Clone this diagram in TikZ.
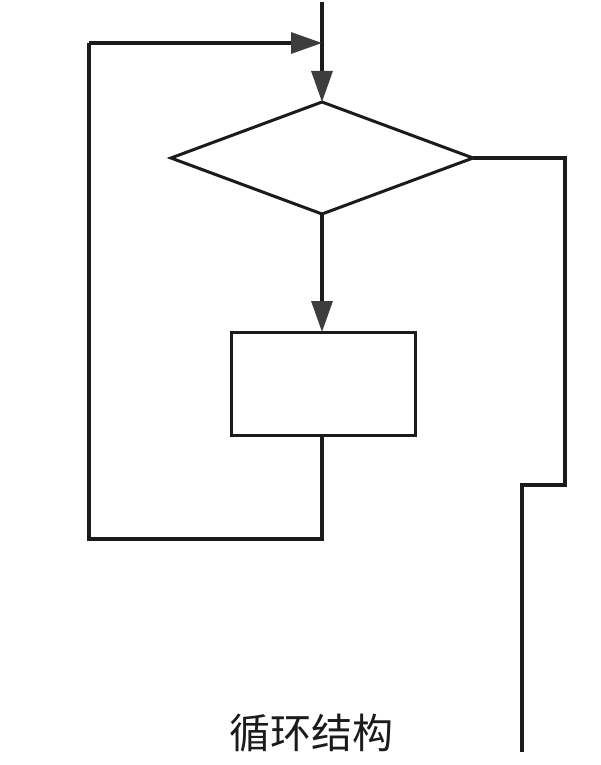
\documentclass[tikz,border=0pt]{standalone}
\usepackage{fontspec}
\newfontfamily\cjk{Noto Sans CJK SC}
\usetikzlibrary{shapes.geometric,arrows.meta}
\definecolor{ink}{HTML}{1C1A1A}
\definecolor{tipgray}{HTML}{3E3D3D}
\begin{document}
\begin{tikzpicture}[x=1pt,y=-1pt,
  flow/.style={draw=ink,line width=3.2pt,line join=miter},
  arr/.style={flow,-{Triangle[length=31pt,width=21pt,fill=tipgray,color=tipgray]}},
  decision/.style={diamond,draw=ink,line width=3pt,minimum width=302pt,minimum height=112pt,inner sep=0pt,outer sep=0pt},
  procbox/.style={rectangle,draw=ink,line width=3pt,minimum width=184pt,minimum height=103pt,inner sep=0pt,outer sep=0pt},
  caption/.style={font=\cjk\fontsize{41}{45}\selectfont,text=ink,inner sep=0pt}]
\useasboundingbox[fill=white] (0,0) rectangle (601,765);
\node[decision] (dec) at (322,158) {};
\node[procbox] (proc) at (323,383.5) {};
\coordinate (start) at (322,2);
\coordinate (join) at (322,43);
\coordinate (lt) at (89,43);
\coordinate (lb) at (89,539);
\coordinate (pb) at (322,539);
\coordinate (r1) at (565,158);
\coordinate (r2) at (565,485);
\coordinate (r3) at (522,485);
\coordinate (rend) at (522,752);
\draw[arr] (start) -- (dec.north);
\draw[arr] (dec.south) -- (proc.north -| dec.south);
\draw[flow] (proc.south -| pb) -- (pb) -- (lb) -- (lt);
\draw[arr] (lt) -- (join);
\draw[flow] (dec.east) -- (r1) -- (r2) -- (r3) -- (rend);
\node[caption] (cap) at (311,733) {循环结构};
\end{tikzpicture}
\end{document}
